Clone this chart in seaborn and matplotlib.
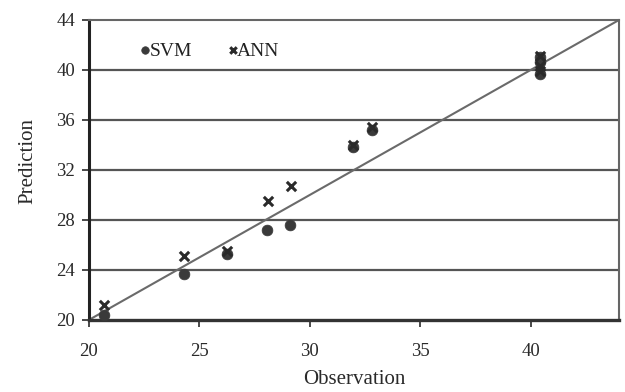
import matplotlib
matplotlib.use("Agg")
import matplotlib.pyplot as plt
import seaborn as sns
import pandas as pd

# Data
svm_obs = [20.7, 24.3, 26.25, 28.05, 29.1, 31.95, 32.8, 40.4, 40.4, 40.4]
svm_pred = [20.4, 23.7, 25.3, 27.2, 27.6, 33.85, 35.2, 41.0, 40.6, 39.7]
ann_obs = [20.7, 24.3, 26.25, 28.1, 29.15, 31.95, 32.8, 40.4, 40.4, 40.4]
ann_pred = [21.2, 25.1, 25.5, 29.5, 30.7, 34.0, 35.4, 41.1, 40.3, 39.9]
ref_line = [20, 44]
x_ticks = [20, 25, 30, 35, 40]
y_ticks = [20, 24, 28, 32, 36, 40, 44]

sns.set_style("white")
plt.rcParams['font.family'] = ['Liberation Serif', 'DejaVu Serif']

fig = plt.figure(figsize=(6.25, 3.92), dpi=100)
ax = fig.add_axes([0.1424, 0.184, 0.848, 0.765])

for y in y_ticks[1:-1]:
    ax.axhline(y, color='#555555', lw=1.6, zorder=1)

ax.plot(ref_line, ref_line, color='#6a6a6a', lw=1.5, zorder=2)

df_svm = pd.DataFrame({'obs': svm_obs, 'pred': svm_pred})
df_ann = pd.DataFrame({'obs': ann_obs, 'pred': ann_pred})

sns.scatterplot(data=df_svm, x='obs', y='pred', ax=ax, marker='o', s=60,
                color='#3a3a3a', edgecolor='#3a3a3a', linewidth=0.5, zorder=3, label='SVM')
sns.scatterplot(data=df_ann, x='obs', y='pred', ax=ax, marker='x', s=45,
                color='#2a2a2a', linewidth=2.2, zorder=4, label='ANN')

ax.set_xlim(20, 44)
ax.set_ylim(20, 44)
ax.set_xticks(x_ticks)
ax.set_yticks(y_ticks)
ax.tick_params(axis='both', labelsize=13.5, colors='#2a2a2a', direction='out',
               length=5, width=1.2, bottom=True, left=True)
ax.tick_params(axis='x', pad=12)
ax.tick_params(axis='y', pad=5)
ax.set_xlabel('Observation', fontsize=15, color='#2a2a2a', labelpad=7)
ax.set_ylabel('Prediction', fontsize=15, color='#2a2a2a', labelpad=14)
ax.yaxis.label.set_y(0.53)

for side in ['top', 'right']:
    ax.spines[side].set_color('#666666')
    ax.spines[side].set_linewidth(1.5)
ax.spines['left'].set_color('#222222')
ax.spines['left'].set_linewidth(2.2)
ax.spines['bottom'].set_color('#333333')
ax.spines['bottom'].set_linewidth(2.4)

leg = ax.legend(loc='upper left', bbox_to_anchor=(0.055, 0.985), ncol=2, frameon=False,
                fontsize=14, handletextpad=-0.3, columnspacing=1.6, handlelength=1.0,
                markerscale=0.7)
for t in leg.get_texts():
    t.set_color('#222222')

fig.savefig('out.png', dpi=100, facecolor='white')
